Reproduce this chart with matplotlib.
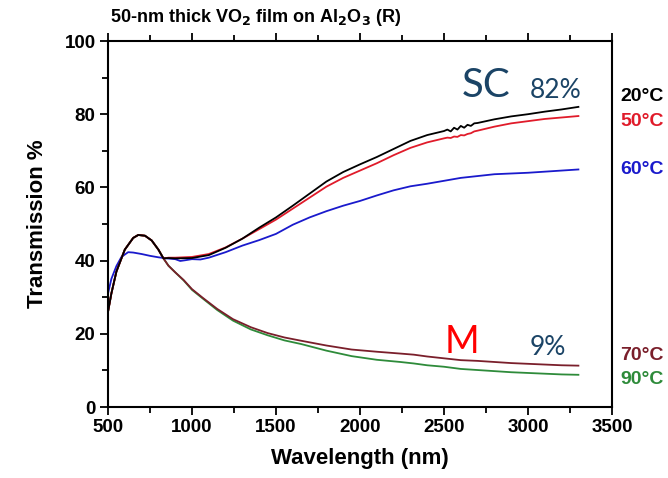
import matplotlib.pyplot as plt
from matplotlib.ticker import MultipleLocator

# shared start of all curves except 60C (500 nm -> crossing point)
wl_start = [500, 520, 550, 600, 650, 680, 720, 760, 800, 830]
t_start = [26, 31, 37, 43, 46.2, 47.0, 46.8, 45.5, 43.0, 40.6]

# semiconducting branch
wl_sc = [860, 900, 1000, 1100, 1200, 1300, 1400, 1500, 1600, 1700, 1800, 1900,
         2000, 2100, 2200, 2300, 2400, 2500, 2520, 2540, 2560, 2580, 2600, 2620,
         2640, 2660, 2680, 2700, 2800, 2900, 3000, 3100, 3200, 3300]
t_20c = [40.7, 40.6, 40.7, 41.5, 43.5, 46.0, 49.0, 51.8, 55.0, 58.3, 61.6, 64.2,
         66.3, 68.3, 70.5, 72.7, 74.3, 75.4, 75.8, 75.3, 76.3, 75.8, 76.8, 76.3,
         77.1, 76.8, 77.5, 77.6, 78.6, 79.4, 80.0, 80.7, 81.3, 82.0]
t_50c = [40.8, 40.8, 41.0, 41.8, 43.6, 46.0, 48.6, 51.2, 54.2, 57.2, 60.2, 62.6,
         64.6, 66.6, 68.8, 70.8, 72.3, 73.4, 73.6, 73.5, 73.9, 73.8, 74.3, 74.2,
         74.6, 74.8, 75.3, 75.5, 76.6, 77.5, 78.1, 78.7, 79.1, 79.5]

wl_60 = [500, 520, 550, 580, 620, 650, 700, 750, 800, 850, 900, 930, 960, 1000,
         1050, 1100, 1200, 1300, 1400, 1500, 1600, 1700, 1800, 1900, 2000, 2100,
         2200, 2300, 2400, 2500, 2600, 2700, 2800, 2900, 3000, 3100, 3200, 3300]
t_60c = [31, 35, 38.5, 41, 42.3, 42.2, 41.8, 41.3, 40.9, 40.6, 40.4, 39.9, 40.1,
         40.4, 40.3, 40.8, 42.3, 44.1, 45.6, 47.3, 49.8, 51.8, 53.5, 55.0, 56.3,
         57.8, 59.2, 60.3, 61.0, 61.8, 62.6, 63.1, 63.6, 63.8, 64.0, 64.3, 64.6, 64.9]

# metallic branch
wl_m = [860, 900, 950, 1000, 1065, 1150, 1244, 1350, 1450, 1550, 1650, 1800,
        1950, 2100, 2240, 2320, 2400, 2500, 2600, 2700, 2800, 2900, 3000, 3100,
        3200, 3300]
t_70c = [38.6, 36.8, 34.7, 32.2, 29.8, 26.8, 24.0, 21.8, 20.2, 19.0, 18.1, 16.8,
         15.7, 15.1, 14.6, 14.3, 13.8, 13.3, 12.8, 12.6, 12.3, 12.0, 11.8, 11.6,
         11.4, 11.3]
t_90c = [38.6, 36.8, 34.6, 32.0, 29.6, 26.5, 23.6, 21.2, 19.6, 18.2, 17.2, 15.4,
         13.9, 12.9, 12.3, 11.9, 11.4, 11.0, 10.4, 10.1, 9.8, 9.5, 9.3, 9.1,
         8.9, 8.8]

labels = ["20°C", "50°C", "60°C", "70°C", "90°C"]
label_y = [84.7, 77.9, 64.8, 14.2, 7.4]
colors = ["black", "#e01b2a", "#1a1acc", "#7a1f2b", "#2e8b3a"]

plt.rcParams['font.family'] = ['Liberation Sans', 'DejaVu Sans']
fig = plt.figure(figsize=(6.68, 4.78), dpi=100)
ax = fig.add_axes([108 / 668, 1 - 407 / 478, 504 / 668, 366 / 478])

ax.plot(wl_start + wl_m, t_start + t_90c, color=colors[4], lw=1.3)
ax.plot(wl_start + wl_m, t_start + t_70c, color=colors[3], lw=1.3)
ax.plot(wl_60, t_60c, color=colors[2], lw=1.3)
ax.plot(wl_start + wl_sc, t_start + t_50c, color=colors[1], lw=1.3)
ax.plot(wl_start + wl_sc, t_start + t_20c, color=colors[0], lw=1.3)

ax.set_xlim(500, 3500)
ax.set_ylim(0, 100)
ax.xaxis.set_major_locator(MultipleLocator(500))
ax.xaxis.set_minor_locator(MultipleLocator(250))
ax.yaxis.set_major_locator(MultipleLocator(20))
ax.yaxis.set_minor_locator(MultipleLocator(10))
ax.tick_params(which='both', direction='out', top=True, right=False, width=1.3)
ax.tick_params(which='major', length=6, labelsize=13.5, pad=3)
ax.tick_params(which='minor', length=4)
for lab in ax.get_xticklabels() + ax.get_yticklabels():
    lab.set_fontweight('bold')
for sp in ax.spines.values():
    sp.set_linewidth(1.5)

ax.set_xlabel("Wavelength (nm)", fontsize=16, fontweight='bold', labelpad=8)
ax.set_ylabel("Transmission %", fontsize=16, fontweight='bold', labelpad=12)

fig.text(110 / 668, 1 - 22 / 478, r"50-nm thick VO$_\mathbf{2}$ film on Al$_\mathbf{2}$O$_\mathbf{3}$ (R)",
         fontsize=13, fontweight='bold', va='baseline')

for lab, y, c in zip(labels, label_y, colors):
    ax.text(3547, y, lab, color=c, fontsize=14, fontweight='bold',
            va='center', ha='left', clip_on=False)

ax.text(2606, 84.7, "SC", color="#1b4466", fontsize=29, family='Lato', va='baseline')
ax.text(3011, 84.4, "82%", color="#1b4466", fontsize=19, family='Lato', va='baseline')
ax.text(2505, 14.8, "M", color="#ff0000", fontsize=27, family='Lato', va='baseline')
ax.text(3011, 14.2, "9%", color="#1b4466", fontsize=19, family='Lato', va='baseline')

fig.savefig("out.png", dpi=100)
